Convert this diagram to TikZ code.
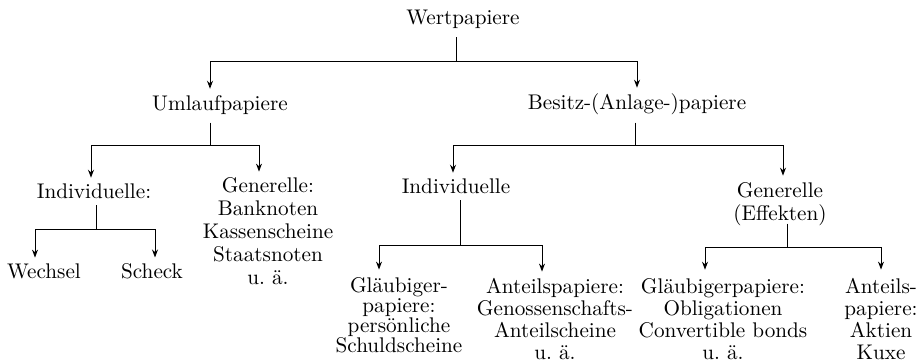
\documentclass[tikz,border=0pt]{standalone}
\usepackage{fontspec}
\usetikzlibrary{arrows.meta}

\begin{document}
\begin{tikzpicture}[%
    x=0.5pt, y=-0.5pt,%
    every node/.style={inner sep=3pt, align=center, font=\fontsize{10.6}{11.5}\selectfont}%
    ]
    % Styles
    \tikzset{pfeil/.style={-{Stealth[length=4pt, width=3pt]}, line width=0.5pt}}%
    \tikzset{stiel/.style={line width=0.5pt}}%
    \tikzset{eng/.style={font=\fontsize{10.6}{10}\selectfont}}%
    \tikzset{mittel/.style={font=\fontsize{10.6}{11}\selectfont}}%

    % Rahmen
    \useasboundingbox (0,0) rectangle (921,362);%

    % Ebene 1 und 2
    \node (wert) at (463,19.8) {Wertpapiere};%
    \node (umlauf) at (220,104.7) {Umlaufpapiere};%
    \node (besitz) at (637,104.7) {Besitz-(Anlage-)papiere};%

    % Ebene 3
    \node (indiv1) at (94,191.6) {Individuelle:};%
    \node (gener1) at (268,231.6) {Generelle:\\ Banknoten\\ Kassenscheine\\ Staatsnoten\\ u.~ä.};%
    \node (indiv2) at (456,186.6) {Individuelle};%
    \node (gener2) at (780,203.7) {Generelle\\ (Effekten)};%

    % Ebene 4
    \node (wechsel) at (44,271.6) {Wechsel};%
    \node (scheck) at (152,271.6) {Scheck};%
    \node[eng] (glaeub1) at (399,315.7) {Gläubiger-\\ papiere:\\ persönliche\\ Schuldscheine};%
    \node[mittel] (anteil1) at (555,318.7) {Anteilspapiere:\\ Genossenschafts-\\ Anteilscheine\\ u.~ä.};%
    \node[mittel] (glaeub2) at (723,318.7) {Gläubigerpapiere:\\ Obligationen\\ Convertible bonds\\ u.~ä.};%
    \node[mittel] (anteil2) at (881,318.7) {Anteils-\\ papiere:\\ Aktien\\ Kuxe};%

    % Balkenhöhen
    \coordinate (b1) at (0,62);%
    \coordinate (b2) at (0,146);%
    \coordinate (b3) at (0,230);%
    \coordinate (b4) at (0,246);%
    \coordinate (b5) at (0,248);%

    % Wertpapiere
    \coordinate (s1) at ([xshift=-3.5pt, yshift=-1pt]wert.south);%
    \draw[stiel] (s1) -- (s1 |- b1);%
    \draw[pfeil] (s1 |- b1) -| ([xshift=-5pt]umlauf.north);%
    \draw[pfeil] (s1 |- b1) -| (besitz.north);%

    % Umlaufpapiere
    \coordinate (s2) at ([xshift=-5pt, yshift=-1pt]umlauf.south);%
    \draw[stiel] (s2) -- (s2 |- b2);%
    \draw[pfeil] (s2 |- b2) -| ([xshift=-1.5pt]indiv1.north);%
    \draw[pfeil] (s2 |- b2) -| ([xshift=-4.5pt]gener1.north);%

    % Besitzpapiere
    \coordinate (s3) at ([xshift=-1pt, yshift=-0.5pt]besitz.south);%
    \draw[stiel] (s3) -- (s3 |- b2);%
    \draw[pfeil] (s3 |- b2) -| ([xshift=-1.5pt]indiv2.north);%
    \draw[pfeil] (s3 |- b2) -| ([xshift=1.5pt]gener2.north);%

    % Individuelle (Umlauf)
    \coordinate (s4) at ([xshift=1pt]indiv1.south);%
    \draw[stiel] (s4) -- (s4 |- b3);%
    \draw[pfeil] (s4 |- b3) -| ([xshift=-4.5pt]wechsel.north);%
    \draw[pfeil] (s4 |- b3) -| ([xshift=1.5pt]scheck.north);%

    % Individuelle (Besitz)
    \coordinate (s5) at ([xshift=2pt]indiv2.south);%
    \draw[stiel] (s5) -- (s5 |- b4);%
    \draw[pfeil] (s5 |- b4) -| ([xshift=-10pt, yshift=1pt]glaeub1.north);%
    \draw[pfeil] (s5 |- b4) -| ([xshift=-6.5pt]anteil1.north);%

    % Generelle (Effekten)
    \coordinate (s6) at ([xshift=3.5pt, yshift=4pt]gener2.south);%
    \draw[stiel] (s6) -- (s6 |- b5);%
    \draw[pfeil] (s6 |- b5) -| ([xshift=-9pt, yshift=1pt]glaeub2.north);%
    \draw[pfeil] (s6 |- b5) -| ([yshift=1pt]anteil2.north);%
\end{tikzpicture}
\end{document}
